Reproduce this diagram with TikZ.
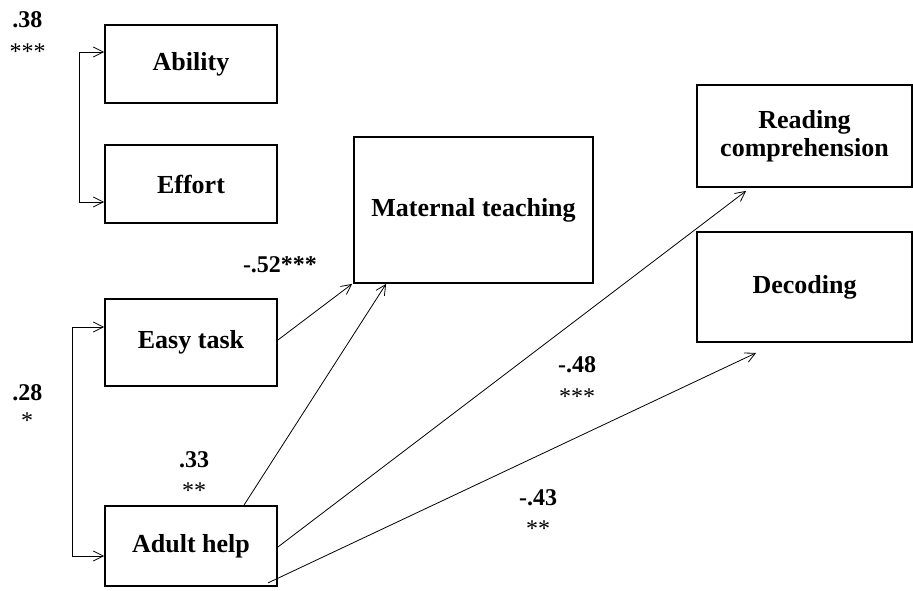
\documentclass[tikz,border=0pt]{standalone}
\usepackage{fontspec}
\setmainfont{Liberation Serif}
\usetikzlibrary{arrows.meta}
\begin{document}
\begin{tikzpicture}[x=1pt,y=-1pt,
  box/.style={draw, line width=1.8pt, inner sep=0pt, font=\bfseries\fontsize{26}{28}\selectfont, align=center},
  tip/.tip={Straight Barb[length=10pt,width=10pt,line width=0.8pt]},
  path/.style={line width=0.8pt, -tip},
  corr/.style={line width=0.8pt, tip-tip},
  coef/.style={font=\bfseries\fontsize{24}{26}\selectfont, inner sep=0pt, anchor=base},
  star/.style={font=\fontsize{24}{26}\selectfont, inner sep=0pt, anchor=base}]
\useasboundingbox (0,0) rectangle (913,591);
% predictor boxes
\node[box, minimum width=172pt, minimum height=78pt] (ab) at (191,64) {Ability};
\node[box, minimum width=172pt, minimum height=78pt] (ef) at (191,184) {Effort};
\node[box, minimum width=172pt, minimum height=87pt] (ez) at (191,342.5) {Easy task};
\node[box, minimum width=172pt, minimum height=80pt] (ah) at (191,546) {Adult help};
% mediator and outcomes
\node[box, minimum width=239pt, minimum height=146pt] (mt) at (473.5,210) {Maternal teaching};
\node[box, minimum width=215pt, minimum height=102pt] (rc) at (804.5,136) {Reading\\comprehension};
\node[box, minimum width=215pt, minimum height=110pt] (dc) at (804.5,287) {Decoding};
% correlations
\coordinate (c1) at (79,52);
\coordinate (c2) at (79,202);
\draw[corr] ([yshift=12pt]ab.west) -- (c1) -- (c2) -- ([yshift=-18pt]ef.west);
\coordinate (c3) at (72,327);
\coordinate (c4) at (72,556);
\draw[corr] ([yshift=15.5pt]ez.west) -- (c3) -- (c4) -- ([yshift=-10pt]ah.west);
% paths
\draw[path] ([yshift=2.5pt]ez.east) -- ([xshift=-1pt]mt.south west);
\draw[path] ([xshift=53pt]ah.north) -- ([xshift=33pt]mt.south west);
\draw[path] ([yshift=-1pt]ah.east) -- ([xshift=50pt,yshift=-3pt]rc.south west);
\draw[path] ([xshift=77pt,yshift=4pt]ah.south) -- ([xshift=60pt,yshift=-10pt]dc.south west);
% coefficients
\node[coef] (k1) at (27.5,28) {.38};
\node[star] (s1) at (27.5,60) {***};
\node[coef] (k2) at (27.5,400) {.28};
\node[star] (s2) at (27,428) {*};
\node[coef] (k3) at (194,467) {.33};
\node[star] (s3) at (194,498) {**};
\node[coef] (k4) at (280,272) {-.52***};
\node[coef] (k5) at (577,372) {-.48};
\node[star] (s5) at (577,404) {***};
\node[coef] (k6) at (538,505) {-.43};
\node[star] (s6) at (538,536) {**};
\end{tikzpicture}
\end{document}
